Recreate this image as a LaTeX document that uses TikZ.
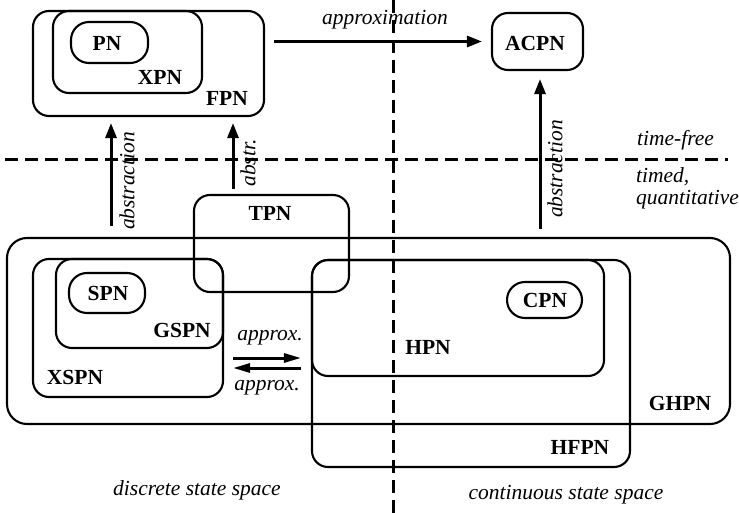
\documentclass[tikz,border=0pt]{standalone}
\usepackage{fontspec}
\setmainfont{Liberation Serif}
\usetikzlibrary{arrows.meta}
\begin{document}
\begin{tikzpicture}[x=1pt,y=-1pt,
  box/.style={draw, line width=2.1pt, rounded corners=16pt, inner sep=0pt},
  pill/.style={draw, line width=2.1pt, rounded corners=18pt, inner sep=0pt},
  lbl/.style={font=\fontsize{21.5}{24}\selectfont\bfseries, inner sep=0pt},
  itl/.style={font=\fontsize{21.5}{22}\selectfont\itshape, inner sep=0pt},
  arr/.style={line width=3pt, -{Triangle[length=15pt,width=11pt]}},
  sarr/.style={line width=3pt, -{Triangle[length=17pt,width=9pt]}},
  divider/.style={line width=3pt, dash pattern=on 13pt off 7pt}]
\useasboundingbox (0,0) rectangle (739,513);

% dividers
\coordinate (hL) at (5,160);
\coordinate (hR) at (728,160);
\coordinate (vT) at (393,0);
\coordinate (vB) at (393,513);
\draw[divider] (hL) -- (hR);
\draw[divider] (vT) -- (vB);

% boxes
\node[box, minimum width=231pt, minimum height=105pt] (FPN) at (148.5,63.5) {};
\node[box, minimum width=149pt, minimum height=82pt] (XPN) at (127.5,52) {};
\node[pill, minimum width=77pt, minimum height=41pt] (PN) at (109.5,42.5) {};
\node[box, minimum width=91pt, minimum height=57pt] (ACPN) at (537.5,41.5) {};
\node[box, minimum width=155pt, minimum height=97pt] (TPN) at (271.5,243.5) {};
\node[box, rounded corners=20pt, minimum width=723pt, minimum height=186pt] (GHPN) at (368.5,331) {};
\node[box, minimum width=190pt, minimum height=138pt] (XSPN) at (128,328) {};
\node[box, minimum width=167pt, minimum height=89pt] (GSPN) at (139.5,303.5) {};
\node[pill, minimum width=76pt, minimum height=40pt] (SPN) at (107,293) {};
\node[box, minimum width=318pt, minimum height=207pt] (HFPN) at (471,363.5) {};
\node[box, minimum width=292pt, minimum height=116pt] (HPN) at (458,318) {};
\node[pill, minimum width=75pt, minimum height=36pt] (CPN) at (544.5,300) {};

% box labels
\node[lbl] (tPN) at (107,43) {PN};
\node[lbl] (tXPN) at (160,77) {XPN};
\node[lbl] (tFPN) at (227,98) {FPN};
\node[lbl] (tACPN) at (535,43) {ACPN};
\node[lbl] (tTPN) at (270,213) {TPN};
\node[lbl] (tSPN) at (108,293) {SPN};
\node[lbl] (tGSPN) at (182,330) {GSPN};
\node[lbl] (tXSPN) at (75,377) {XSPN};
\node[lbl] (tCPN) at (545,300) {CPN};
\node[lbl] (tHPN) at (428,347) {HPN};
\node[lbl] (tGHPN) at (680,403) {GHPN};
\node[lbl] (tHFPN) at (580,447) {HFPN};

% arrow columns
\coordinate (c1) at (111,0);
\coordinate (c2) at (233,0);
\coordinate (c3) at (540,0);
\coordinate (r1) at (0,358);
\coordinate (r2) at (0,368);

\draw[arr] ([xshift=9pt]FPN.east |- ACPN.west) -- ([xshift=-9pt]ACPN.west);
\draw[arr] ([yshift=11pt]GHPN.north -| c1) -- ([yshift=-6pt]FPN.south -| c1);
\draw[arr] ([yshift=5pt]TPN.north -| c2) -- ([yshift=-6pt]FPN.south -| c2);
\draw[arr] ([yshift=8pt]GHPN.north -| c3) -- ([yshift=-8pt]ACPN.south -| c3);
\draw[sarr] ([xshift=9pt]XSPN.east |- r1) -- ([xshift=-10pt]HFPN.west |- r1);
\draw[sarr] ([xshift=-10pt]HFPN.west |- r2) -- ([xshift=9pt]XSPN.east |- r2);

% italic labels
\node[itl] (lApprox) at (385,20) {approximation};
\node[itl, rotate=90] (lAbs1) at (127,181) {abstraction};
\node[itl, rotate=90] (lAbs2) at (248,163) {abstr.};
\node[itl, rotate=90] (lAbs3) at (555,169) {abstraction};
\node[itl] (lAp1) at (270,338) {approx.};
\node[itl] (lAp2) at (267,388) {approx.};
\node[itl, anchor=west] (lFree) at (637,140) {time-free};
\node[itl, anchor=west, align=left] (lTimed) at (636,188) {timed,\\quantitative};
\node[itl] (lDisc) at (197,490) {discrete state space};
\node[itl] (lCont) at (566,495) {continuous state space};
\end{tikzpicture}
\end{document}
